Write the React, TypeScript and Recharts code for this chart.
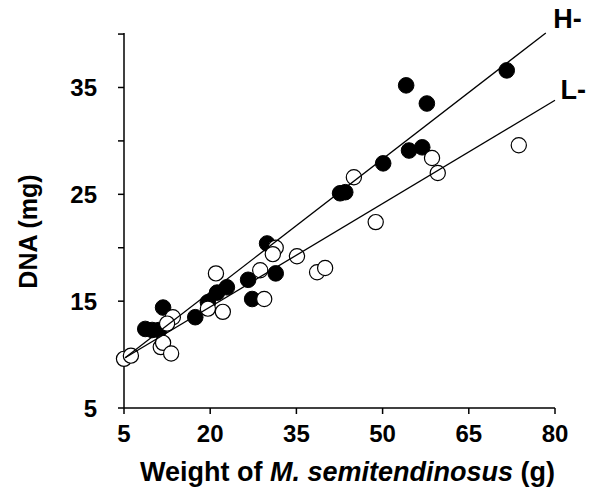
import React from 'react';
import { ScatterChart, Scatter, XAxis, YAxis, LabelList } from 'recharts';

// H- group (filled circles): weight (g), DNA (mg)
const hWeight = [71.6, 54.1, 57.7, 54.6, 56.9, 50.1, 42.6, 43.5, 29.9, 31.4, 27.3, 26.6, 22.9, 21.2, 19.6, 17.4, 11.8, 8.7, 9.9, 11.1];
const hDna = [36.6, 35.2, 33.5, 29.1, 29.4, 27.9, 25.1, 25.2, 20.4, 17.6, 15.2, 17.0, 16.3, 15.8, 14.9, 13.5, 14.4, 12.4, 12.3, 12.3];

// L- group (open circles)
const lWeight = [5.0, 6.2, 11.4, 11.8, 13.2, 13.5, 12.5, 21.0, 19.6, 22.2, 28.7, 29.4, 31.4, 30.9, 35.1, 38.6, 40.0, 45.0, 48.8, 58.6, 59.6, 73.7];
const lDna = [9.6, 9.9, 10.7, 11.1, 10.1, 13.5, 12.9, 17.6, 14.3, 14.0, 17.9, 15.2, 20.0, 19.4, 19.2, 17.7, 18.1, 26.6, 22.4, 28.4, 27.0, 29.6];

// regression line end points
const hFitX = [5.2, 78.4];
const hFitY = [9.7, 40.1];
const lFitX = [5.2, 80.0];
const lFitY = [9.7, 33.8];

const xTicks = [5, 20, 35, 50, 65, 80];
const yTicks = [5, 10, 15, 20, 25, 30, 35, 40];
const yLabelled = [5, 15, 25, 35];

const zip = (xs: number[], ys: number[]) => xs.map((x, i) => ({ x, y: ys[i] }));

const hPoints = zip(hWeight, hDna);
const lPoints = zip(lWeight, lDna);
const hFit = zip(hFitX, hFitY);
const lFit = zip(lFitX, lFitY);

const FONT = '"Liberation Sans", Arial, sans-serif';

const YTick = (props: any) => {
  const { x, y, payload } = props;
  if (!yLabelled.includes(payload.value)) return null;
  return (
    <text x={x} y={y} dy="0.355em" textAnchor="end" fontFamily={FONT} fontWeight="bold" fontSize={24} fill="#000">
      {payload.value}
    </text>
  );
};

const XTick = (props: any) => {
  const { x, y, payload } = props;
  return (
    <text x={x} y={y} dy="0.71em" textAnchor="middle" fontFamily={FONT} fontWeight="bold" fontSize={24} fill="#000">
      {payload.value}
    </text>
  );
};

const filledDot = (p: any) => <circle cx={p.cx} cy={p.cy} r={7.8} fill="#000" stroke="#000" />;
const openDot = (p: any) => <circle cx={p.cx} cy={p.cy} r={7.6} fill="#fff" stroke="#000" strokeWidth={1.2} />;
const noDot = () => <g />;

const endLabel = (text: string, dx: number, dy: number) => (props: any) => {
  const { x, y, index } = props;
  if (index !== 1) return null;
  return (
    <text x={x + dx} y={y + dy} fontFamily={FONT} fontWeight="bold" fontSize={27} fill="#000">
      {text}
    </text>
  );
};

export default function App() {
  return (
    <div style={{ position: 'absolute', left: 0, top: 0, background: '#fff' }}>
      <ScatterChart width={594} height={493} margin={{ top: 33, right: 39, bottom: 0, left: 0 }}>
        <XAxis
          type="number"
          dataKey="x"
          domain={[5, 80]}
          ticks={xTicks}
          interval={0}
          height={85}
          stroke="#000"
          strokeWidth={1.5}
          tickSize={6}
          tickMargin={11}
          tick={<XTick />}
          label={{
            content: (p: any) => {
              const vb = p.viewBox;
              return (
                <text x={vb.x + vb.width / 2 + 8} y={vb.y + 73} textAnchor="middle" fontFamily={FONT} fontWeight="bold" fontSize={27} fill="#000">
                  Weight of <tspan fontStyle="italic">M. semitendinosus</tspan> (g)
                </text>
              );
            },
          }}
        />
        <YAxis
          type="number"
          dataKey="y"
          domain={[5, 40]}
          ticks={yTicks}
          interval={0}
          width={124}
          stroke="#000"
          strokeWidth={1.5}
          tickSize={6}
          tickMargin={21}
          tick={<YTick />}
          label={{
            content: (p: any) => {
              const vb = p.viewBox;
              const cx = 28;
              const cy = vb.y + vb.height / 2 + 11;
              return (
                <text x={cx} y={cy} dy="0.355em" textAnchor="middle" transform={`rotate(-90 ${cx} ${cy})`} fontFamily={FONT} fontWeight="bold" fontSize={25} fill="#000">
                  DNA (mg)
                </text>
              );
            },
          }}
        />
        <Scatter data={hPoints} shape={filledDot} isAnimationActive={false} />
        <Scatter data={lPoints} shape={openDot} isAnimationActive={false} />
        <Scatter data={hFit} line={{ stroke: '#000', strokeWidth: 1.3 }} shape={noDot} isAnimationActive={false}>
          <LabelList dataKey="y" content={endLabel('H-', 12, 0)} />
        </Scatter>
        <Scatter data={lFit} line={{ stroke: '#000', strokeWidth: 1.3 }} shape={noDot} isAnimationActive={false}>
          <LabelList dataKey="y" content={endLabel('L-', 10, 3)} />
        </Scatter>
      </ScatterChart>
    </div>
  );
}
